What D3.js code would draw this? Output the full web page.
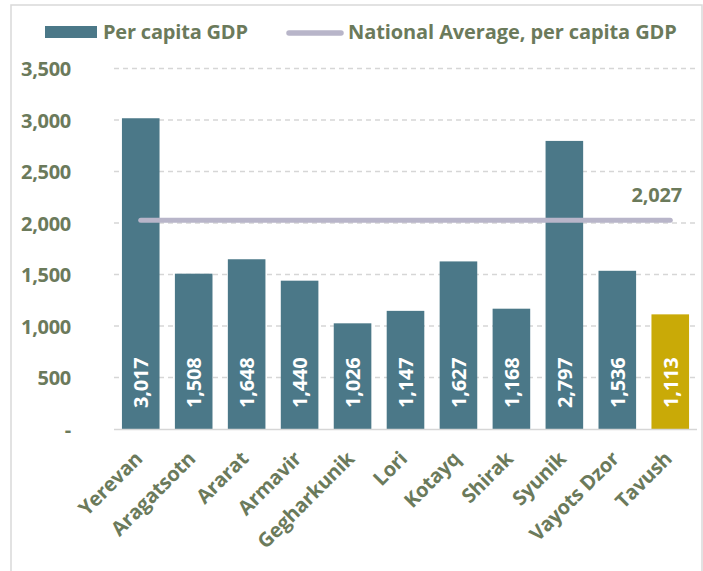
<!DOCTYPE html>
<html><head><meta charset="utf-8">
<script src="https://cdn.jsdelivr.net/npm/d3@7"></script>
<style>body{margin:0;background:#fff}svg{display:block}text{font-family:"Open Sans",sans-serif;font-weight:bold}</style>
</head><body><svg id="c" width="703" height="571"></svg>
<script>
const categories = ["Yerevan","Aragatsotn","Ararat","Armavir","Gegharkunik","Lori","Kotayq","Shirak","Syunik","Vayots Dzor","Tavush"];
const values = [3017,1508,1648,1440,1026,1147,1627,1168,2797,1536,1113];
const nationalAverage = 2027;
const yTicks = [0,500,1000,1500,2000,2500,3000,3500];
const highlight = "Tavush";

const textCol = "#6b7a5b", barCol = "#4b7888", hiCol = "#c9aa07", lineCol = "#b8b5c9", gridCol = "#d6d6d6";
const FS = "20px";
const svg = d3.select("#c");
svg.append("rect").attr("x",11).attr("y",5).attr("width",691).attr("height",600).attr("fill","none").attr("stroke","#d9d9d9").attr("stroke-width",1.5);

const x = d3.scaleBand().domain(categories).range([114,697]).paddingInner(0.29).paddingOuter(0.15);
const y = d3.scaleLinear().domain([0,3500]).range([429,68.5]);

// grid
svg.append("g").selectAll("line").data(yTicks.filter(d=>d>0)).join("line")
  .attr("x1",114).attr("x2",697).attr("y1",d=>y(d)).attr("y2",d=>y(d))
  .attr("stroke",gridCol).attr("stroke-width",1.3).attr("stroke-dasharray","5,4");

// y axis labels
const fmt = d3.format(",");
const ya = svg.append("g").attr("transform","translate(74,0)").call(d3.axisLeft(y).tickValues(yTicks).tickSize(0).tickFormat(d=>d===0?"-":fmt(d)));
ya.select(".domain").remove();
ya.selectAll("text").attr("fill",textCol).style("font-size",FS).style("font-family","'Open Sans',sans-serif").style("font-weight","bold").attr("dx","0").attr("dy","0.35em").attr("letter-spacing","-0.3");

// bars
svg.append("g").selectAll("rect").data(categories).join("rect")
  .attr("x",d=>x(d)).attr("width",x.bandwidth())
  .attr("y",(d,i)=>y(values[i])).attr("height",(d,i)=>y(0)-y(values[i]))
  .attr("fill",d=>d===highlight?hiCol:barCol);

// axis baseline
svg.append("line").attr("x1",114).attr("x2",697).attr("y1",y(0)+0.5).attr("y2",y(0)+0.5).attr("stroke",gridCol).attr("stroke-width",1.5);

// value labels
svg.append("g").selectAll("text").data(categories).join("text")
  .attr("transform",(d,i)=>`translate(${x(d)+x.bandwidth()/2+7.5},${y(0)-21}) rotate(-90)`)
  .attr("text-anchor","start").attr("fill","#fff").style("font-size",FS).attr("letter-spacing","-0.2")
  .text((d,i)=>fmt(values[i]));

// national average line
const cx0 = x(categories[0])+x.bandwidth()/2, cxN = x(categories[categories.length-1])+x.bandwidth()/2;
svg.append("line").attr("x1",cx0).attr("x2",cxN)
  .attr("y1",y(nationalAverage)).attr("y2",y(nationalAverage))
  .attr("stroke",lineCol).attr("stroke-width",5).attr("stroke-linecap","round");
svg.append("text").attr("x",cxN-13.5).attr("y",y(nationalAverage)-18)
  .attr("text-anchor","middle").attr("fill",textCol).style("font-size",FS).attr("letter-spacing","-0.2").text(fmt(nationalAverage));

// category labels
svg.append("g").selectAll("text").data(categories).join("text")
  .attr("transform",d=>`translate(${x(d)+x.bandwidth()/2+3},${y(0)+31}) rotate(-45)`)
  .attr("text-anchor","end").attr("fill",textCol).style("font-size",FS).attr("letter-spacing","-0.2").text(d=>d);

// legend
svg.append("rect").attr("x",45).attr("y",26).attr("width",52).attr("height",12).attr("fill",barCol);
svg.append("text").attr("x",103).attr("y",39).attr("fill",textCol).style("font-size",FS).attr("letter-spacing","-0.2").text("Per capita GDP");
svg.append("line").attr("x1",289).attr("x2",341).attr("y1",33).attr("y2",33).attr("stroke",lineCol).attr("stroke-width",5.5).attr("stroke-linecap","round");
svg.append("text").attr("x",348).attr("y",39).attr("fill",textCol).style("font-size",FS).attr("letter-spacing","-0.1").text("National Average, per capita GDP");
</script></body></html>
